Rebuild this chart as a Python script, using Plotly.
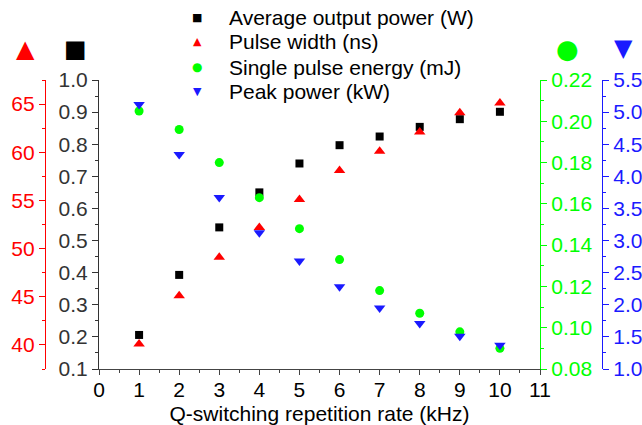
import plotly.graph_objects as go

# Q-switching repetition rate (kHz)
rate_khz = [1, 2, 3, 4, 5, 6, 7, 8, 9, 10]

avg_power_w = [0.206, 0.393, 0.541, 0.650, 0.740, 0.797, 0.824, 0.854, 0.878, 0.901]
pulse_width_ns = [40.1, 45.1, 49.1, 52.2, 55.1, 58.1, 60.1, 62.1, 64.1, 65.1]
pulse_energy_mj = [0.205, 0.196, 0.180, 0.163, 0.148, 0.133, 0.118, 0.107, 0.098, 0.090]
peak_power_kw = [5.12, 4.34, 3.67, 3.12, 2.68, 2.28, 1.95, 1.71, 1.51, 1.37]

series_names = ["Average output power (W)", "Pulse width (ns)",
                "Single pulse energy (mJ)", "Peak power (kW)"]

RED, BLACK, GREEN, BLUE = "#ff0000", "#000000", "#00ff00", "#1a1aff"
W, H = 642, 425
TOP, BOTTOM = 80, 369  # plot area, pixels from the top
FONT = "Liberation Sans, Arial, sans-serif"
FS = 21

fig = go.Figure()

series = [
    (avg_power_w, "y", "square", BLACK, 8, "■", 11),
    (pulse_width_ns, "y2", "triangle-up", RED, 10, "▲", 11),
    (pulse_energy_mj, "y3", "circle", GREEN, 9, "●", 12),
    (peak_power_kw, "y4", "triangle-down", BLUE, 10, "▼", 11),
]
for name, (vals, ax, sym, col, size, _, _) in zip(series_names, series):
    fig.add_trace(go.Scatter(
        x=rate_khz, y=vals, yaxis=ax, mode="markers", name=name,
        marker=dict(symbol=sym, color=col, size=size, line=dict(width=0)),
    ))


def py2paper(py):
    return (BOTTOM - py) / (BOTTOM - TOP)


def yax(color, rng, dtick, minor, **kw):
    d = dict(
        range=rng, dtick=dtick, tick0=rng[0] if dtick != 5 else 40,
        domain=[0, 1], showgrid=False, zeroline=False,
        showline=True, linecolor=color, linewidth=1.2,
        ticks="outside", ticklen=6, tickcolor=color, tickwidth=1.2,
        minor=dict(dtick=minor, ticks="outside", ticklen=3, tickcolor=color),
        tickfont=dict(color=color, size=FS, family=FONT),
        automargin=False,
    )
    d.update(kw)
    return d


fig.update_layout(
    width=W, height=H,
    margin=dict(l=0, r=0, t=TOP, b=H - BOTTOM, autoexpand=False),
    paper_bgcolor="white", plot_bgcolor="white",
    font=dict(family=FONT, color="black"),
    showlegend=False,
    xaxis=dict(
        domain=[99 / W, 540 / W], range=[0, 11], dtick=1, tick0=0,
        showgrid=False, zeroline=False, showline=True,
        linecolor="#444", linewidth=1.2,
        ticks="outside", ticklen=5, tickcolor="#444", tickwidth=1.2,
        minor=dict(dtick=0.5, ticks="outside", ticklen=3, tickcolor="#444"),
        tickfont=dict(size=FS, family=FONT), automargin=False,
        ticklabelstandoff=-3,
        title=dict(text="Q-switching repetition rate (kHz)",
                   font=dict(size=FS, family=FONT), standoff=6),
    ),
    yaxis=yax("#333", [0.1, 1.0], 0.1, 0.05, tickformat=".1f"),
    yaxis2=yax(RED, [37.5, 67.5], 5, 2.5, overlaying="y", anchor="free",
               position=45 / W, side="left"),
    yaxis3=yax(GREEN, [0.08, 0.22], 0.02, 0.01, overlaying="y", anchor="x",
               side="right", tickformat=".2f"),
    yaxis4=yax(BLUE, [1.0, 5.5], 0.5, 0.25, overlaying="y", anchor="free",
               position=602 / W, side="right", tickformat=".1f"),
)

# legend drawn as annotations (tight row spacing like the original)
for i, (name, s) in enumerate(zip(series_names, series)):
    py = 17 + 25 * i
    col, glyph, gsz = s[3], s[5], s[6]
    fig.add_annotation(x=197 / W, y=py2paper(py), xref="paper", yref="paper",
                       text=glyph, showarrow=False, xanchor="center", yanchor="middle",
                       font=dict(color=col, size=gsz, family="DejaVu Sans"))
    fig.add_annotation(x=227 / W, y=py2paper(py), xref="paper", yref="paper",
                       text=name, showarrow=False, xanchor="left", yanchor="middle",
                       font=dict(color="black", size=FS, family=FONT))

# symbol keys above each y-axis
for sym, col, px, py, sz in [("▲", RED, 25, 49, 24), ("■", BLACK, 75, 49, 24),
                             ("●", GREEN, 567, 49, 26), ("▼", BLUE, 623, 48, 24)]:
    fig.add_annotation(x=px / W, y=py2paper(py), xref="paper", yref="paper",
                       text=sym, showarrow=False, xanchor="center", yanchor="middle",
                       font=dict(color=col, size=sz, family="DejaVu Sans"))

fig.write_html("out.html", config={"displayModeBar": False},
               post_script="document.body.style.margin = '0';")
